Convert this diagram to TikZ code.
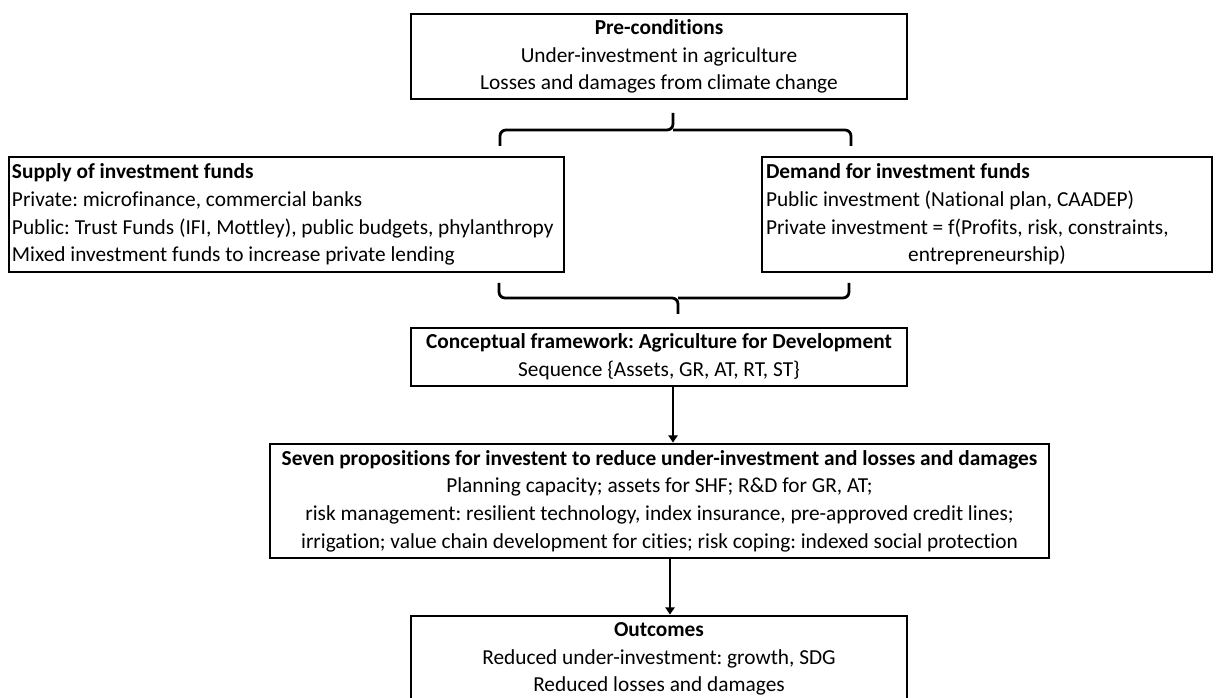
\documentclass[tikz,border=0pt]{standalone}
\usepackage{fontspec}
\setmainfont{Carlito}[Ligatures=NoCommon]
\usetikzlibrary{arrows.meta}
\begin{document}
\begin{tikzpicture}[x=0.75pt,y=-0.75pt,
  box/.style={draw=black,line width=2.1pt,inner sep=0pt,fill=white,
    font=\fontsize{16}{20.8}\selectfont\frenchspacing},
  sz/.style 2 args={minimum width={#1*0.75pt},minimum height={#2*0.75pt}},
  ctr/.style={box,align=center},
  lft/.style={box,align=flush left},
  link/.style={line width=2.1pt,black},
  arr/.style={link,-{Triangle[length=5.5pt,width=7pt]}},
  brace/.style={link,rounded corners=4.5pt}]
\useasboundingbox[fill=white] (0,0) rectangle (1221,698);

\node[ctr,sz={496}{85}] (pre) at (659,56.5)
  {\textbf{Pre-conditions}\\Under-investment in agriculture\\Losses and damages from climate change};

\node[lft,sz={555}{115},text width={549*0.75pt}] (supply) at (286.5,214.5)
  {\textbf{Supply of investment funds}\\
   Private: microfinance, commercial banks\\
   Public: Trust Funds (IFI, Mottley), public budgets, phylanthropy\\
   Mixed investment funds to increase private lending};

\node[lft,sz={450}{115},text width={442*0.75pt}] (demand) at (987,214.5)
  {\textbf{Demand for investment funds}\\
   Public investment (National plan, CAADEP)\\
   Private investment = f(Profits, risk, constraints,\\
   \makebox[\linewidth][c]{entrepreneurship)}};

\node[ctr,sz={496}{58}] (conc) at (659,357)
  {\textbf{Conceptual framework: Agriculture for Development}\\Sequence \{Assets, GR, AT, RT, ST\}};

\node[ctr,sz={779}{114}] (seven) at (659.5,501)
  {\textbf{Seven propositions for investent to reduce under-investment and losses and damages}\\
   Planning capacity; assets for SHF; R\&D for GR, AT;\\
   risk management: resilient technology, index insurance, pre-approved credit lines;\\
   irrigation; value chain development for cities; risk coping: indexed social protection};

\node[ctr,sz={496}{86}] (out) at (659,659)
  {\textbf{Outcomes}\\Reduced under-investment: growth, SDG\\Reduced losses and damages};

% top brace
\coordinate (t0) at (673,113);
\coordinate (tm) at (673,130);
\coordinate (tl) at (500,146);
\coordinate (tr) at (851,146);
\draw[brace] (tl) |- (tm) -- (t0);
\draw[brace] (tr) |- (tm);

% bottom brace
\coordinate (b0) at (678,314);
\coordinate (bm) at (678,298);
\coordinate (bl) at (499,283);
\coordinate (br) at (849,283);
\draw[brace] (bl) |- (bm) -- (b0);
\draw[brace] (br) |- (bm);

% arrows
\coordinate (a1) at (673,0);
\coordinate (a2) at (670,0);
\draw[arr] (conc.south -| a1) -- (seven.north -| a1);
\draw[arr] (seven.south -| a2) -- (out.north -| a2);
\end{tikzpicture}
\end{document}
